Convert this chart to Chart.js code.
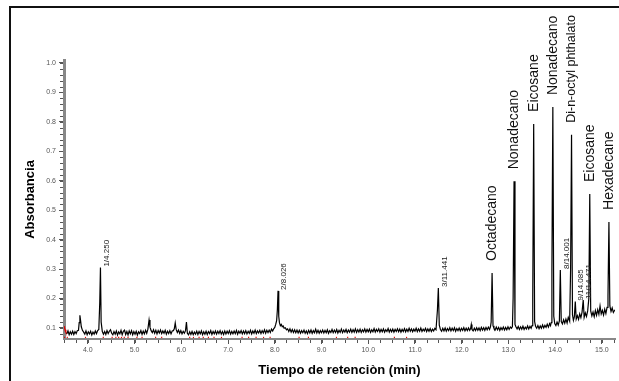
<!DOCTYPE html>
<html>
<head>
<meta charset="utf-8">
<script src="https://cdn.jsdelivr.net/npm/chart.js@4"></script>
<style>
  html, body { margin: 0; padding: 0; background: #fff; }
  #wrap { width: 619px; height: 381px; position: relative; }
</style>
</head>
<body>
<div id="wrap"><canvas id="chromatogram" width="619" height="381"></canvas></div>
<script>
// retention time (min) and absorbance
const retention = [
  3.49, 3.50, 3.515, 3.53, 3.55, 3.575, 3.60, 3.625, 3.65, 3.675,
  3.70, 3.725, 3.75, 3.775, 3.80, 3.815, 3.83, 3.845, 3.86, 3.885,
  3.91, 3.935, 3.96, 3.985, 4.01, 4.035, 4.06, 4.085, 4.11, 4.135,
  4.16, 4.185, 4.21, 4.235, 4.255, 4.27, 4.285, 4.31, 4.335, 4.36,
  4.385, 4.41, 4.435, 4.46, 4.485, 4.51, 4.535, 4.56, 4.585, 4.61,
  4.635, 4.66, 4.685, 4.71, 4.735, 4.76, 4.785, 4.81, 4.835, 4.86,
  4.885, 4.91, 4.935, 4.96, 4.985, 5.01, 5.035, 5.06, 5.085, 5.11,
  5.135, 5.16, 5.185, 5.21, 5.235, 5.26, 5.285, 5.31, 5.33, 5.355,
  5.38, 5.405, 5.43, 5.455, 5.48, 5.505, 5.53, 5.555, 5.58, 5.605,
  5.63, 5.655, 5.68, 5.705, 5.73, 5.755, 5.78, 5.805, 5.83, 5.85,
  5.87, 5.89, 5.915, 5.94, 5.965, 5.99, 6.015, 6.04, 6.065, 6.09,
  6.11, 6.13, 6.155, 6.18, 6.205, 6.23, 6.255, 6.28, 6.305, 6.33,
  6.355, 6.38, 6.405, 6.43, 6.455, 6.48, 6.505, 6.53, 6.555, 6.58,
  6.605, 6.63, 6.655, 6.68, 6.705, 6.73, 6.755, 6.78, 6.805, 6.83,
  6.855, 6.88, 6.905, 6.93, 6.955, 6.98, 7.005, 7.03, 7.055, 7.08,
  7.105, 7.13, 7.155, 7.18, 7.205, 7.23, 7.255, 7.28, 7.305, 7.33,
  7.355, 7.38, 7.405, 7.43, 7.455, 7.48, 7.505, 7.53, 7.555, 7.58,
  7.605, 7.63, 7.655, 7.68, 7.705, 7.73, 7.755, 7.78, 7.805, 7.83,
  7.855, 7.88, 7.905, 7.93, 7.955, 7.98, 8.00, 8.02, 8.04, 8.055,
  8.07, 8.085, 8.10, 8.12, 8.14, 8.16, 8.18, 8.20, 8.225, 8.25,
  8.275, 8.30, 8.325, 8.35, 8.375, 8.40, 8.425, 8.45, 8.475, 8.50,
  8.525, 8.55, 8.575, 8.60, 8.625, 8.65, 8.675, 8.70, 8.725, 8.75,
  8.775, 8.80, 8.825, 8.85, 8.875, 8.90, 8.925, 8.95, 8.975, 9.00,
  9.025, 9.05, 9.075, 9.10, 9.125, 9.15, 9.175, 9.20, 9.225, 9.25,
  9.275, 9.30, 9.325, 9.35, 9.375, 9.40, 9.425, 9.45, 9.475, 9.50,
  9.525, 9.55, 9.575, 9.60, 9.625, 9.65, 9.675, 9.70, 9.725, 9.75,
  9.775, 9.80, 9.825, 9.85, 9.875, 9.90, 9.925, 9.95, 9.975, 10.00,
  10.025, 10.05, 10.075, 10.10, 10.125, 10.15, 10.175, 10.20, 10.225, 10.25,
  10.275, 10.30, 10.325, 10.35, 10.375, 10.40, 10.425, 10.45, 10.475, 10.50,
  10.525, 10.55, 10.575, 10.60, 10.625, 10.65, 10.675, 10.70, 10.725, 10.75,
  10.775, 10.80, 10.825, 10.85, 10.875, 10.90, 10.925, 10.95, 10.975, 11.00,
  11.025, 11.05, 11.075, 11.10, 11.125, 11.15, 11.175, 11.20, 11.225, 11.25,
  11.275, 11.30, 11.325, 11.35, 11.375, 11.40, 11.425, 11.45, 11.48, 11.50,
  11.52, 11.545, 11.57, 11.595, 11.62, 11.645, 11.67, 11.695, 11.72, 11.745,
  11.77, 11.795, 11.82, 11.845, 11.87, 11.895, 11.92, 11.945, 11.97, 11.995,
  12.02, 12.045, 12.07, 12.095, 12.12, 12.145, 12.17, 12.19, 12.205, 12.22,
  12.245, 12.27, 12.295, 12.32, 12.345, 12.37, 12.395, 12.42, 12.445, 12.47,
  12.495, 12.52, 12.545, 12.57, 12.595, 12.615, 12.63, 12.65, 12.67, 12.69,
  12.715, 12.74, 12.765, 12.79, 12.815, 12.84, 12.865, 12.89, 12.915, 12.94,
  12.965, 12.99, 13.015, 13.04, 13.065, 13.085, 13.10, 13.12, 13.14, 13.16,
  13.185, 13.21, 13.235, 13.26, 13.285, 13.31, 13.335, 13.36, 13.385, 13.41,
  13.435, 13.46, 13.485, 13.505, 13.52, 13.54, 13.56, 13.58, 13.605, 13.63,
  13.655, 13.68, 13.705, 13.73, 13.755, 13.78, 13.805, 13.83, 13.855, 13.88,
  13.90, 13.915, 13.93, 13.95, 13.97, 13.99, 14.015, 14.04, 14.065, 14.09,
  14.11, 14.13, 14.155, 14.18, 14.205, 14.23, 14.255, 14.28, 14.31, 14.33,
  14.35, 14.37, 14.39, 14.41, 14.43, 14.45, 14.475, 14.50, 14.525, 14.55,
  14.575, 14.60, 14.62, 14.645, 14.67, 14.695, 14.72, 14.74, 14.76, 14.785,
  14.81, 14.835, 14.86, 14.885, 14.91, 14.935, 14.96, 14.985, 15.01, 15.035,
  15.06, 15.085, 15.11, 15.13, 15.15, 15.17, 15.195, 15.22, 15.245, 15.28
];
const absorbance = [
  0.106, 0.100, 0.094, 0.086, 0.080, 0.090, 0.077, 0.087, 0.079, 0.089,
  0.078, 0.088, 0.081, 0.091, 0.092, 0.118, 0.143, 0.125, 0.104, 0.092,
  0.086, 0.079, 0.090, 0.077, 0.087, 0.080, 0.089, 0.076, 0.086, 0.079,
  0.090, 0.081, 0.091, 0.095, 0.185, 0.305, 0.120, 0.088, 0.079, 0.088,
  0.078, 0.091, 0.081, 0.089, 0.094, 0.082, 0.077, 0.088, 0.079, 0.090,
  0.076, 0.087, 0.080, 0.092, 0.077, 0.089, 0.093, 0.078, 0.088, 0.076,
  0.090, 0.080, 0.091, 0.077, 0.088, 0.079, 0.089, 0.076, 0.087, 0.081,
  0.091, 0.078, 0.089, 0.080, 0.092, 0.082, 0.096, 0.127, 0.103, 0.091,
  0.084, 0.094, 0.082, 0.092, 0.080, 0.091, 0.083, 0.093, 0.081, 0.090,
  0.082, 0.092, 0.079, 0.089, 0.081, 0.091, 0.080, 0.090, 0.091, 0.097,
  0.117, 0.095, 0.085, 0.093, 0.082, 0.091, 0.080, 0.089, 0.082, 0.091,
  0.120, 0.082, 0.077, 0.087, 0.078, 0.088, 0.077, 0.086, 0.079, 0.089,
  0.078, 0.088, 0.080, 0.090, 0.077, 0.087, 0.079, 0.089, 0.078, 0.088,
  0.081, 0.091, 0.078, 0.088, 0.080, 0.090, 0.079, 0.089, 0.081, 0.091,
  0.079, 0.088, 0.078, 0.090, 0.080, 0.089, 0.081, 0.091, 0.079, 0.088,
  0.080, 0.090, 0.081, 0.092, 0.079, 0.089, 0.082, 0.091, 0.080, 0.090,
  0.081, 0.091, 0.080, 0.089, 0.082, 0.092, 0.080, 0.090, 0.082, 0.093,
  0.081, 0.090, 0.083, 0.092, 0.081, 0.091, 0.083, 0.094, 0.082, 0.092,
  0.084, 0.093, 0.085, 0.096, 0.090, 0.098, 0.102, 0.112, 0.125, 0.160,
  0.226, 0.140, 0.118, 0.108, 0.112, 0.104, 0.107, 0.099, 0.101, 0.094,
  0.097, 0.088, 0.097, 0.086, 0.095, 0.085, 0.094, 0.084, 0.093, 0.083,
  0.092, 0.082, 0.091, 0.084, 0.093, 0.082, 0.090, 0.081, 0.092, 0.083,
  0.093, 0.082, 0.091, 0.084, 0.096, 0.083, 0.092, 0.082, 0.091, 0.084,
  0.093, 0.083, 0.092, 0.084, 0.094, 0.082, 0.091, 0.085, 0.095, 0.084,
  0.093, 0.085, 0.095, 0.083, 0.092, 0.085, 0.096, 0.084, 0.093, 0.086,
  0.095, 0.084, 0.093, 0.086, 0.096, 0.085, 0.094, 0.086, 0.097, 0.085,
  0.094, 0.086, 0.096, 0.085, 0.094, 0.087, 0.097, 0.086, 0.095, 0.087,
  0.096, 0.085, 0.094, 0.087, 0.098, 0.086, 0.095, 0.088, 0.097, 0.086,
  0.095, 0.087, 0.097, 0.086, 0.094, 0.088, 0.098, 0.086, 0.095, 0.087,
  0.096, 0.086, 0.095, 0.088, 0.097, 0.087, 0.096, 0.086, 0.095, 0.088,
  0.098, 0.087, 0.096, 0.088, 0.099, 0.089, 0.097, 0.087, 0.096, 0.089,
  0.099, 0.088, 0.097, 0.089, 0.100, 0.088, 0.096, 0.090, 0.099, 0.088,
  0.097, 0.089, 0.098, 0.088, 0.096, 0.090, 0.099, 0.094, 0.160, 0.236,
  0.110, 0.095, 0.089, 0.099, 0.090, 0.100, 0.089, 0.098, 0.091, 0.101,
  0.090, 0.099, 0.091, 0.101, 0.089, 0.098, 0.091, 0.100, 0.090, 0.099,
  0.092, 0.101, 0.090, 0.099, 0.091, 0.100, 0.092, 0.098, 0.112, 0.095,
  0.090, 0.099, 0.091, 0.101, 0.092, 0.100, 0.091, 0.102, 0.093, 0.101,
  0.092, 0.102, 0.094, 0.103, 0.095, 0.104, 0.120, 0.287, 0.108, 0.099,
  0.093, 0.103, 0.094, 0.102, 0.092, 0.101, 0.094, 0.103, 0.093, 0.102,
  0.094, 0.104, 0.095, 0.103, 0.099, 0.105, 0.200, 0.598, 0.112, 0.104,
  0.097, 0.105, 0.095, 0.104, 0.096, 0.106, 0.095, 0.103, 0.097, 0.107,
  0.097, 0.106, 0.099, 0.108, 0.200, 0.793, 0.122, 0.106, 0.099, 0.108,
  0.098, 0.107, 0.099, 0.110, 0.100, 0.109, 0.102, 0.113, 0.103, 0.115,
  0.108, 0.118, 0.300, 0.850, 0.140, 0.115, 0.108, 0.120, 0.110, 0.124,
  0.297, 0.122, 0.114, 0.128, 0.116, 0.130, 0.117, 0.136, 0.123, 0.300,
  0.756, 0.145, 0.126, 0.138, 0.190, 0.130, 0.142, 0.129, 0.148, 0.135,
  0.154, 0.195, 0.136, 0.151, 0.139, 0.158, 0.200, 0.555, 0.158, 0.141,
  0.154, 0.138, 0.159, 0.143, 0.162, 0.146, 0.175, 0.148, 0.160, 0.144,
  0.164, 0.149, 0.170, 0.210, 0.460, 0.175, 0.156, 0.168, 0.153, 0.162
];

// red baseline marks along the bottom
const baselineMarks = [
  3.50, 3.56, 3.95, 4.33, 4.52, 4.60, 4.66, 4.72, 4.78, 4.86,
  5.05, 5.16, 5.45, 5.58, 6.18, 6.26, 6.38, 6.47, 6.58, 6.70,
  6.86, 7.30, 7.44, 7.60, 7.76, 7.90, 8.52, 8.72, 9.32, 9.56,
  9.72, 10.56, 10.82
];
const baselineLevel = 0.068;

const compoundNames = ['Octadecano', 'Nonadecano', 'Eicosane', 'Nonadecano',
  'Di-n-octyl phthalato', 'Eicosane', 'Hexadecane'];
const compoundTimes = [12.65, 13.12, 13.54, 13.95, 14.35, 14.74, 15.15];

const peakTags = ['1/4.250', '2/8.026', '3/11.441', '8/14.001', '9/14.085', '11/14.471'];
const peakTagTimes = [4.27, 8.07, 11.50, 14.11, 14.43, 14.60];

const xTickValues = [4, 5, 6, 7, 8, 9, 10, 11, 12, 13, 14, 15];
const yTickValues = [0.1, 0.2, 0.3, 0.4, 0.5, 0.6, 0.7, 0.8, 0.9, 1.0];

const FONT = "'Liberation Sans', Arial, sans-serif";

function peakTop(t) {
  return absorbance[retention.indexOf(t)];
}

const framePlugin = {
  id: 'frame',
  beforeDraw(chart) {
    const ctx = chart.ctx;
    ctx.save();
    ctx.fillStyle = '#fff';
    ctx.fillRect(0, 0, chart.width, chart.height);
    ctx.strokeStyle = '#111';
    ctx.lineWidth = 2;
    ctx.beginPath();
    ctx.moveTo(10, chart.height);
    ctx.lineTo(10, 7);
    ctx.lineTo(chart.width, 7);
    ctx.stroke();
    ctx.restore();
  }
};

const minorTicksPlugin = {
  id: 'minorTicks',
  afterDraw(chart) {
    const { ctx, scales: { x, y }, chartArea } = chart;
    ctx.save();
    ctx.strokeStyle = '#555';
    ctx.lineWidth = 1;
    ctx.beginPath();
    for (let v = 3.5; v <= 15.26; v += 0.25) {
      const px = Math.round(x.getPixelForValue(v)) + 0.5;
      ctx.moveTo(px, chartArea.bottom + 1);
      ctx.lineTo(px, chartArea.bottom + 4);
    }
    for (let v = 0.08; v <= 1.001; v += 0.02) {
      const py = Math.round(y.getPixelForValue(v)) + 0.5;
      ctx.moveTo(chartArea.left - 4, py);
      ctx.lineTo(chartArea.left - 1, py);
    }
    ctx.stroke();
    ctx.restore();
  }
};

const peakLabelPlugin = {
  id: 'peakLabels',
  afterDatasetsDraw(chart) {
    const { ctx, scales: { x, y } } = chart;
    ctx.save();
    ctx.textAlign = 'left';
    ctx.textBaseline = 'middle';

    ctx.fillStyle = '#111';
    compoundNames.forEach((name, i) => {
      const t = compoundTimes[i];
      const px = x.getPixelForValue(t);
      const py = y.getPixelForValue(peakTop(t));
      ctx.font = (name.length > 12 ? '12.5px ' : '14px ') + FONT;
      ctx.save();
      ctx.translate(px, py - 12);
      ctx.rotate(-Math.PI / 2);
      ctx.fillText(name, 0, 0);
      ctx.restore();
    });

    ctx.fillStyle = '#222';
    ctx.font = '8px ' + FONT;
    peakTags.forEach((tag, i) => {
      const t = peakTagTimes[i];
      const px = x.getPixelForValue(t);
      const py = y.getPixelForValue(peakTop(t));
      ctx.save();
      ctx.translate(px + 6, py - 1);
      ctx.rotate(-Math.PI / 2);
      ctx.fillText(tag, 0, 0);
      ctx.restore();
    });
    ctx.restore();
  }
};

new Chart(document.getElementById('chromatogram'), {
  type: 'line',
  data: {
    datasets: [
      {
        label: 'Absorbancia',
        data: retention.map((t, i) => ({ x: t, y: absorbance[i] })),
        borderColor: '#000',
        borderWidth: 1.2,
        pointRadius: 0,
        tension: 0,
        segment: {
          borderColor: c => (c.p0.parsed.x < 3.55 ? '#e00000' : '#000')
        }
      },
      {
        type: 'scatter',
        label: 'baseline',
        data: baselineMarks.map(t => ({ x: t, y: baselineLevel })),
        pointStyle: 'rect',
        pointRadius: 0.8,
        backgroundColor: '#e00000',
        borderWidth: 0
      }
    ]
  },
  options: {
    responsive: false,
    animation: false,
    events: [],
    layout: { padding: { top: 60, right: 2, left: 0, bottom: 0 } },
    plugins: {
      legend: { display: false },
      tooltip: { enabled: false }
    },
    scales: {
      x: {
        type: 'linear',
        min: 3.49,
        max: 15.28,
        afterBuildTicks: s => { s.ticks = xTickValues.map(v => ({ value: v })); },
        afterFit: s => { s.height = 42; },
        ticks: {
          autoSkip: false,
          maxRotation: 0,
          padding: 2,
          color: '#555',
          font: { size: 7, family: FONT },
          callback: v => Number(v).toFixed(1)
        },
        grid: { drawOnChartArea: false, tickLength: 5, tickColor: '#555' },
        border: { color: '#888', width: 2 },
        title: {
          display: true,
          text: 'Tiempo de retenciòn (min)',
          color: '#000',
          font: { size: 13, weight: 'bold', family: FONT },
          padding: { top: 0, bottom: 3 }
        }
      },
      y: {
        min: 0.0626,
        max: 1.01,
        afterBuildTicks: s => { s.ticks = yTickValues.map(v => ({ value: v })); },
        afterFit: s => { s.width = 64; },
        ticks: {
          autoSkip: false,
          padding: 3,
          color: '#555',
          font: { size: 7, family: FONT },
          callback: v => Number(v).toFixed(1)
        },
        grid: { drawOnChartArea: false, tickLength: 5, tickColor: '#555' },
        border: { color: '#888', width: 3 },
        title: {
          display: true,
          text: 'Absorbancia',
          color: '#000',
          font: { size: 13, weight: 'bold', family: FONT },
          padding: { top: 23, bottom: 0 }
        }
      }
    }
  },
  plugins: [framePlugin, minorTicksPlugin, peakLabelPlugin]
});
</script>
</body>
</html>
